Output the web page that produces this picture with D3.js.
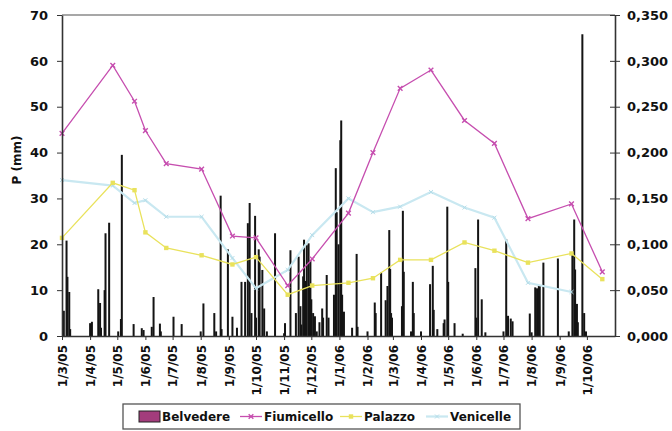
<!DOCTYPE html>
<html lang="it">
    <head>
        <meta charset="utf-8">
        <title>Belvedere, Fiumicello, Palazzo, Venicelle</title>
        <style>
            body { margin : 0; background : #fff; }
            text { font-family : "DejaVu Sans", sans-serif; font-weight : bold; fill : #111; }
            .axis path, .axis line { stroke : #333; }
        </style>
    </head>
    <body>
        <div id="chart"></div>

    <script src="https://cdn.jsdelivr.net/npm/d3@7/dist/d3.min.js"></script>
    <script>

    // Belvedere: daily rainfall (mm, left axis)
    var belvedereDays = [
        "2005-03-03","2005-03-06","2005-03-07","2005-03-09","2005-03-10",
        "2005-04-01","2005-04-03","2005-04-10","2005-04-12","2005-04-13","2005-04-17","2005-04-18","2005-04-22",
        "2005-05-02","2005-05-05","2005-05-06","2005-05-19","2005-05-28","2005-05-30",
        "2005-06-08","2005-06-10","2005-06-17","2005-06-18","2005-07-02","2005-07-11",
        "2005-08-01","2005-08-04","2005-08-16","2005-08-18","2005-08-23","2005-08-24","2005-08-31",
        "2005-09-05","2005-09-10","2005-09-15","2005-09-19","2005-09-22","2005-09-24","2005-09-26","2005-09-30",
        "2005-10-01","2005-10-04","2005-10-05","2005-10-08","2005-10-10","2005-10-13","2005-10-22",
        "2005-11-01","2005-11-02","2005-11-08","2005-11-14","2005-11-17","2005-11-19","2005-11-20","2005-11-22",
        "2005-11-23","2005-11-25","2005-11-26","2005-11-28","2005-11-29","2005-11-30",
        "2005-12-01","2005-12-03","2005-12-05","2005-12-07","2005-12-10","2005-12-13","2005-12-14","2005-12-18",
        "2005-12-20","2005-12-26","2005-12-28","2005-12-29","2005-12-31",
        "2006-01-02","2006-01-03","2006-01-04","2006-01-06","2006-01-15","2006-01-20","2006-01-21",
        "2006-02-01","2006-02-09","2006-02-10","2006-02-16","2006-02-21","2006-02-23","2006-02-25","2006-02-26",
        "2006-02-27","2006-02-28",
        "2006-03-11","2006-03-12","2006-03-13","2006-03-21","2006-03-23","2006-03-24",
        "2006-04-01","2006-04-11","2006-04-14","2006-04-15","2006-04-19","2006-04-26","2006-04-27","2006-04-30",
        "2006-05-01","2006-05-08","2006-05-17","2006-05-31",
        "2006-06-01","2006-06-03","2006-06-07","2006-06-11",
        "2006-07-01","2006-07-04","2006-07-06","2006-07-09","2006-07-11","2006-07-30",
        "2006-08-01","2006-08-05","2006-08-07","2006-08-09","2006-08-10","2006-08-14","2006-08-30",
        "2006-09-11","2006-09-15","2006-09-17","2006-09-18","2006-09-20","2006-09-21","2006-09-26","2006-09-28","2006-09-30"
    ];
    var belvedereMm = [
        5.5, 20.8, 12.9, 9.6, 1.5,
        2.8, 3.1, 10.2, 7.2, 1.8, 10, 22.4, 24.7,
        1, 3.7, 39.5, 2.6, 1.7, 1.3,
        2, 8.5, 2.7, 1, 4.2, 2.6,
        1, 7.1, 5, 1, 30.6, 1.5, 18.9,
        4.2, 1.8, 11.8, 11.8, 24.6, 29, 5, 26.2,
        4, 18.9, 17.3, 14.4, 6, 1, 22.4,
        0.6, 2.8, 18.7, 5, 17.3, 6.5, 2.5, 13,
        21, 12, 19.8, 20.2, 11, 16.5,
        8, 5, 4.3, 1, 3, 6, 4, 13.3,
        4, 9, 36.6, 27, 20,
        42.7, 47, 9, 5.3, 1.8, 17.9, 2,
        1, 7.3, 5, 13.8, 7.8, 10.9, 23.1, 14.6,
        5, 4,
        6.5, 27.3, 14, 1, 11.8, 5,
        1, 11.3, 15.3, 5.7, 1.5, 2.8, 3.6, 28.2,
        11.8, 2.8, 0.5, 14.8,
        4, 25.4, 8, 0.8,
        1, 21.1, 4.4, 3.8, 3.2, 4.9,
        0.8, 10.6, 10.4, 10.9, 10.9, 16, 16.9,
        1, 18, 25.4, 14.5, 7, 3, 65.8, 5, 1
    ];

    // sampling dates of the three other series (right axis)
    var sampleDays = [
        "2005-03-01","2005-04-26","2005-05-20","2005-06-01","2005-06-24","2005-08-02","2005-09-05",
        "2005-10-01","2005-11-05","2005-12-02","2006-01-11","2006-02-07","2006-03-09","2006-04-12",
        "2006-05-19","2006-06-21","2006-07-28","2006-09-14","2006-10-18"
    ];
    var fiumicello = [ 0.221, 0.295, 0.256, 0.224, 0.188, 0.182, 0.109, 0.107, 0.055, 0.084,
                       0.134, 0.200, 0.270, 0.290, 0.235, 0.210, 0.128, 0.144, 0.070 ];
    var palazzo    = [ 0.107, 0.167, 0.159, 0.113, 0.096, 0.088, 0.078, 0.086, 0.045, 0.055,
                       0.058, 0.063, 0.083, 0.083, 0.102, 0.093, 0.080, 0.090, 0.062 ];
    var venicelle  = [ 0.170, 0.164, 0.145, 0.148, 0.130, 0.130, 0.085, 0.052, 0.072, 0.110,
                       0.150, 0.135, 0.141, 0.157, 0.140, 0.129, 0.058, 0.048, null ];

    var leftTicks  = [ 0, 10, 20, 30, 40, 50, 60, 70 ];
    var rightTicks = [ 0, 0.05, 0.10, 0.15, 0.20, 0.25, 0.30, 0.35 ];

    var W = 672 , H = 431;
    var plotLeft = 62 , plotRight = 615 , plotTop = 15 , plotBottom = 336;

    var parse = d3.utcParse( "%Y-%m-%d" );

    var x = d3.scaleUtc()
        .domain( [ parse( "2005-03-01" ) , parse( "2006-11-01" ) ] )
        .range( [ plotLeft , plotRight ] );
    var yL = d3.scaleLinear().domain( [ 0 , 70 ] ).range( [ plotBottom , plotTop ] );
    var yR = d3.scaleLinear().domain( [ 0 , 0.35 ] ).range( [ plotBottom , plotTop ] );

    var svg = d3.select( "#chart" ).append( "svg" )
        .attr( "width" , W )
        .attr( "height" , H );

    // top frame line
    svg.append( "line" )
        .attr( "x1" , plotLeft ).attr( "x2" , plotRight )
        .attr( "y1" , plotTop ).attr( "y2" , plotTop )
        .style( "stroke" , "#8a8a8a" ).style( "stroke-width" , 1.5 );

    // rain bars
    var bars = belvedereDays.map( function( d , i ) { return { date : parse( d ) , mm : belvedereMm[i] }; } );
    svg.append( "g" ).selectAll( "rect" )
        .data( bars )
        .enter().append( "rect" )
            .attr( "x" , function( d ) { return x( d.date ) - 1; } )
            .attr( "width" , 2 )
            .attr( "y" , function( d ) { return yL( d.mm ); } )
            .attr( "height" , function( d ) { return plotBottom - yL( d.mm ); } )
            .style( "fill" , "#141414" );

    // line series
    var series = [
        { name : "Fiumicello" , values : fiumicello , color : "#c64eaf" , width : 1.3 , marker : "x" },
        { name : "Palazzo"    , values : palazzo    , color : "#e9e25c" , width : 1.3 , marker : "square" },
        { name : "Venicelle"  , values : venicelle  , color : "#c9e8f1" , width : 2.2 , marker : "faint" }
    ];

    var line = d3.line()
        .defined( function( d ) { return d.v != null; } )
        .x( function( d ) { return x( d.date ); } )
        .y( function( d ) { return yR( d.v ); } );

    function drawMarker( g , kind , color )
    {
        if( kind == "square" )
            g.append( "rect" ).attr( "x" , -2.2 ).attr( "y" , -2.2 ).attr( "width" , 4.4 ).attr( "height" , 4.4 )
                .style( "fill" , color );
        else if( kind == "x" )
            g.append( "path" ).attr( "d" , d3.symbol( d3.symbolTimes , 16 )() )
                .style( "fill" , "none" ).style( "stroke" , color ).style( "stroke-width" , 1.4 );
        else
            g.append( "path" ).attr( "d" , d3.symbol( d3.symbolTimes , 12 )() )
                .style( "fill" , "none" ).style( "stroke" , "#b5dde9" ).style( "stroke-width" , 1 );
    }

    // draw Venicelle first so the others sit on top
    series.slice().reverse().forEach( function( s ) {
        var pts = sampleDays.map( function( d , i ) { return { date : parse( d ) , v : s.values[i] }; } );
        svg.append( "path" )
            .datum( pts )
            .attr( "d" , line )
            .style( "fill" , "none" )
            .style( "stroke" , s.color )
            .style( "stroke-width" , s.width );
        pts.filter( function( p ) { return p.v != null; } ).forEach( function( p ) {
            var g = svg.append( "g" ).attr( "transform" , "translate(" + x( p.date ) + "," + yR( p.v ) + ")" );
            drawMarker( g , s.marker , s.color );
        } );
    } );

    // axes
    var fmtDate = function( d ) {
        return d.getUTCDate() + "/" + ( d.getUTCMonth() + 1 ) + "/" + d3.utcFormat( "%y" )( d );
    };
    var xAxis = svg.append( "g" )
        .attr( "class" , "axis" )
        .attr( "transform" , "translate(0," + plotBottom + ")" )
        .call( d3.axisBottom( x )
            .tickValues( d3.utcMonth.range( parse( "2005-03-01" ) , parse( "2006-10-02" ) ) )
            .tickFormat( fmtDate )
            .tickSize( 4 )
            .tickSizeOuter( 0 ) );
    xAxis.select( ".domain" ).style( "stroke-width" , 1.6 );
    xAxis.selectAll( "text" )
        .attr( "transform" , "rotate(-90)" )
        .attr( "x" , -9 )
        .attr( "y" , 0 )
        .attr( "dy" , "0.36em" )
        .style( "text-anchor" , "end" )
        .style( "font-size" , "12px" );

    var leftAxis = svg.append( "g" )
        .attr( "class" , "axis" )
        .attr( "transform" , "translate(" + plotLeft + ",0)" )
        .call( d3.axisLeft( yL ).tickValues( leftTicks ).tickSize( 5 ).tickSizeOuter( 0 ).tickPadding( 9 ) );
    leftAxis.select( ".domain" ).style( "stroke-width" , 1.6 );
    leftAxis.selectAll( "text" ).style( "font-size" , "13px" );

    var rightAxis = svg.append( "g" )
        .attr( "class" , "axis" )
        .attr( "transform" , "translate(" + plotRight + ",0)" )
        .call( d3.axisRight( yR )
            .tickValues( rightTicks )
            .tickFormat( function( d ) { return d3.format( ".3f" )( d ).replace( "." , "," ); } )
            .tickSize( 5 ).tickSizeOuter( 0 ).tickPadding( 7 ) );
    rightAxis.select( ".domain" ).style( "stroke-width" , 1.6 );
    rightAxis.selectAll( ".tick line" ).attr( "x1" , -5 );
    rightAxis.selectAll( "text" ).style( "font-size" , "13px" );

    svg.append( "text" )
        .attr( "transform" , "translate(21,160) rotate(-90)" )
        .style( "text-anchor" , "middle" )
        .style( "font-size" , "12px" )
        .text( "P (mm)" );

    // legend
    var legend = svg.append( "g" );
    legend.append( "rect" )
        .attr( "x" , 123 ).attr( "y" , 404 ).attr( "width" , 397 ).attr( "height" , 25 )
        .style( "fill" , "#fff" ).style( "stroke" , "#555" ).style( "stroke-width" , 1.3 );
    legend.append( "rect" )
        .attr( "x" , 139 ).attr( "y" , 411 ).attr( "width" , 21 ).attr( "height" , 11 )
        .style( "fill" , "#a33c7c" ).style( "stroke" , "#222" ).style( "stroke-width" , 1 );
    legend.append( "text" )
        .attr( "x" , 162 ).attr( "y" , 421 )
        .style( "font-size" , "12px" )
        .text( "Belvedere" );

    var legendPos = { "Fiumicello" : 240 , "Palazzo" : 340 , "Venicelle" : 426 };
    series.forEach( function( s ) {
        var lx = legendPos[ s.name ];
        legend.append( "line" )
            .attr( "x1" , lx ).attr( "x2" , lx + 22 )
            .attr( "y1" , 416.5 ).attr( "y2" , 416.5 )
            .style( "stroke" , s.color ).style( "stroke-width" , s.width );
        var g = legend.append( "g" ).attr( "transform" , "translate(" + ( lx + 11 ) + ",416.5)" );
        drawMarker( g , s.marker , s.color );
        legend.append( "text" )
            .attr( "x" , lx + 24 ).attr( "y" , 421 )
            .style( "font-size" , "12px" )
            .text( s.name );
    } );

    </script>
    </body>
</html>
